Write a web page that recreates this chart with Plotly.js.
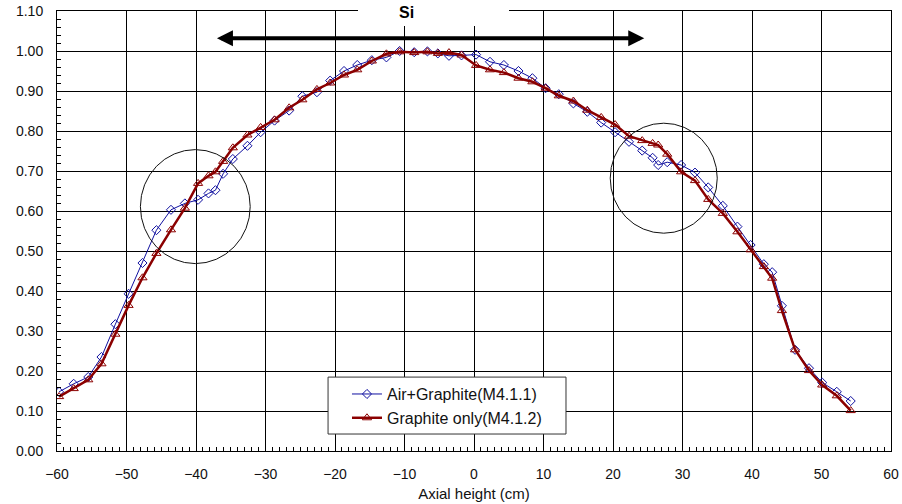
<!DOCTYPE html>
<html>
<head>
<meta charset="utf-8">
<script src="https://cdn.plot.ly/plotly-3.0.1.min.js"></script>
<style>html,body{margin:0;padding:0;background:#fff;}#chart{width:902px;height:504px;}</style>
</head>
<body>
<div id="chart"></div>
<script>
// Axial height (cm)
const axialHeight = [-59.7, -57.6, -55.5, -53.6, -51.6, -49.7, -47.7, -45.7, -43.6, -41.6,
  -39.7, -38.2, -37.2, -36.1, -34.7, -32.6, -30.7, -28.7, -26.6, -24.7,
  -22.6, -20.7, -18.7, -16.8, -14.7, -12.6, -10.7, -8.6, -6.7, -5.2,
  -3.6, -1.8, 0.3, 2.3, 4.3, 6.4, 8.4, 10.3, 12.2, 14.3,
  16.3, 18.3, 20.3, 22.3, 24.2, 25.7, 26.5, 27.8, 29.8, 31.8,
  33.7, 35.8, 37.9, 39.8, 41.7, 42.9, 44.3, 46.2, 48.2, 50.1,
  52.2, 54.2];

// Air+Graphite (M4.1.1)
const airGraphite = [0.148, 0.168, 0.185, 0.235, 0.317, 0.393, 0.470, 0.552, 0.603, 0.619,
  0.628, 0.644, 0.652, 0.693, 0.730, 0.763, 0.797, 0.826, 0.851, 0.887,
  0.897, 0.926, 0.950, 0.965, 0.977, 0.984, 1.000, 0.997, 0.999, 0.994,
  0.988, 0.989, 0.991, 0.973, 0.965, 0.950, 0.932, 0.907, 0.892, 0.869,
  0.848, 0.821, 0.797, 0.773, 0.751, 0.733, 0.715, 0.722, 0.715, 0.696,
  0.659, 0.613, 0.561, 0.515, 0.467, 0.447, 0.363, 0.253, 0.207, 0.171,
  0.148, 0.125];

// Graphite only (M4.1.2)
const graphiteOnly = [0.136, 0.156, 0.178, 0.218, 0.292, 0.364, 0.433, 0.494, 0.553, 0.607,
  0.669, 0.688, 0.698, 0.724, 0.758, 0.790, 0.809, 0.828, 0.858, 0.878,
  0.904, 0.920, 0.940, 0.953, 0.975, 0.993, 0.998, 0.996, 0.998, 0.994,
  0.996, 0.990, 0.964, 0.953, 0.946, 0.932, 0.923, 0.907, 0.888, 0.875,
  0.852, 0.834, 0.816, 0.787, 0.776, 0.769, 0.765, 0.742, 0.698, 0.676,
  0.629, 0.594, 0.548, 0.503, 0.461, 0.432, 0.351, 0.253, 0.201, 0.165,
  0.138, 0.101];

const seriesNames = ['Air+Graphite(M4.1.1)', 'Graphite only(M4.1.2)'];
const regionLabel = 'Si';
const siRange = [-37.2, 24.5];
const siLevel = 1.032;
const circleLeft = {cx: -40.1, cy: 0.611, rx: 7.9, ry: 0.1425};
const circleRight = {cx: 27.3, cy: 0.682, rx: 7.7, ry: 0.1375};

const FONT = 'Liberation Sans, Arial, sans-serif';

const traces = [
  {
    x: axialHeight, y: airGraphite, name: seriesNames[0],
    type: 'scatter', mode: 'lines+markers',
    line: {color: '#1010a0', width: 1},
    marker: {symbol: 'diamond-open', size: 7, color: '#1010a0', line: {width: 1, color: '#1010a0'}}
  },
  {
    x: axialHeight, y: graphiteOnly, name: seriesNames[1],
    type: 'scatter', mode: 'lines+markers',
    line: {color: '#8b0000', width: 2.5},
    marker: {symbol: 'triangle-up-open', size: 8, color: '#8b0000', line: {width: 1, color: '#8b0000'}}
  }
];

function circ(c) {
  return {type: 'circle', xref: 'x', yref: 'y',
    x0: c.cx - c.rx, x1: c.cx + c.rx, y0: c.cy - c.ry, y1: c.cy + c.ry,
    line: {color: '#111', width: 1}, layer: 'above'};
}

const axisCommon = {
  showline: true, linecolor: '#000', linewidth: 1, mirror: true,
  showgrid: true, gridcolor: '#000', gridwidth: 1, zeroline: false,
  ticks: 'inside', ticklen: 5, tickcolor: '#000', tickwidth: 1,
  tickfont: {family: FONT, size: 14, color: '#111'}
};

const layout = {
  width: 902, height: 504,
  margin: {l: 57, r: 11, t: 11, b: 53},
  paper_bgcolor: '#fff', plot_bgcolor: '#fff',
  font: {family: FONT, color: '#111'},
  showlegend: true,
  legend: {
    x: 0.3477, y: 0.168, xanchor: 'left', yanchor: 'top',
    bgcolor: 'rgba(0,0,0,0)', borderwidth: 0,
    font: {family: FONT, size: 16, color: '#111'},
    tracegroupgap: 0
  },
  xaxis: Object.assign({}, axisCommon, {
    range: [-60, 60], tick0: 0, dtick: 10,
    ticklabelstandoff: 10,
    minor: {dtick: 1, ticks: 'inside', ticklen: 4, tickcolor: '#000', showgrid: false},
    title: {text: 'Axial height (cm)', font: {family: FONT, size: 15, color: '#111'}, standoff: 7}
  }),
  yaxis: Object.assign({}, axisCommon, {
    range: [0, 1.1], tick0: 0, dtick: 0.1, tickformat: '.2f',
    ticklabelstandoff: 10,
    minor: {dtick: 0.02, ticks: 'inside', ticklen: 4, tickcolor: '#000', showgrid: false}
  }),
  shapes: [
    circ(circleLeft), circ(circleRight),
    {type: 'rect', xref: 'paper', yref: 'paper', x0: 0.325, x1: 0.6103, y0: 0.0386, y1: 0.168,
     fillcolor: '#fff', line: {color: '#333', width: 1}, layer: 'above'}
  ],
  annotations: [
    {
      xref: 'x', yref: 'y', x: siRange[1], y: siLevel,
      axref: 'x', ayref: 'y', ax: siRange[0], ay: siLevel,
      text: '', showarrow: true, arrowcolor: '#000',
      arrowwidth: 4, arrowhead: 2, arrowsize: 0.8,
      startarrowhead: 2, startarrowsize: 0.8, arrowside: 'end+start',
      standoff: 0, startstandoff: 0
    },
    {
      xref: 'paper', yref: 'paper', x: 0.4514, y: 0.9955,
      xanchor: 'center', yanchor: 'middle',
      text: ' ', showarrow: false, bgcolor: '#fff',
      width: 151, height: 26, borderpad: 0, borderwidth: 0
    },
    {
      xref: 'paper', yref: 'paper', x: 0.4193, y: 0.9959,
      xanchor: 'center', yanchor: 'middle',
      text: '<b>' + regionLabel + '</b>', showarrow: false,
      font: {family: FONT, size: 16, color: '#000'}
    }
  ]
};

Plotly.newPlot('chart', traces, layout, {displayModeBar: false, staticPlot: true});
</script>
</body>
</html>
